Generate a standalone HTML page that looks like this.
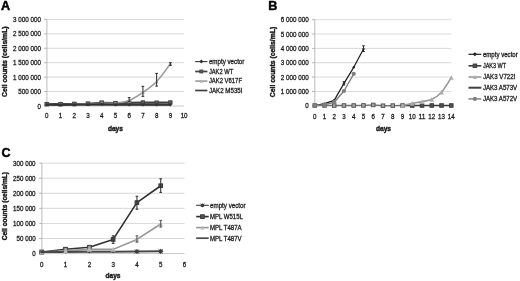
<!DOCTYPE html>
<html><head><meta charset="utf-8"><title>Figure</title>
<style>
html,body{margin:0;padding:0;background:#fff;}
body{width:520px;height:281px;overflow:hidden;}
svg{display:block;font-family:'Liberation Sans', sans-serif;}
text{stroke:#1a1a1a;stroke-width:0.28px;}
</style></head><body>
<svg width="520" height="281" viewBox="0 0 520 281">
<defs><filter id="soft" x="0" y="0" width="520" height="281" filterUnits="userSpaceOnUse"><feGaussianBlur stdDeviation="0.35"/></filter></defs>
<rect width="520" height="281" fill="#ffffff"/>
<g filter="url(#soft)">
<text x="0.9" y="10.3" font-size="12.6" text-anchor="start" font-weight="bold" fill="#000" style="stroke:#000;stroke-width:0.45px">A</text>
<line x1="46.8" y1="106.00" x2="184.1" y2="106.00" stroke="#b9b9b9" stroke-width="0.8"/>
<text x="37.45" y="108.5" font-size="6.9" text-anchor="start" font-weight="normal" fill="#1a1a1a" textLength="3.45" lengthAdjust="spacingAndGlyphs">0</text>
<line x1="44.20" y1="106.00" x2="46.8" y2="106.00" stroke="#9a9a9a" stroke-width="0.8"/>
<line x1="46.8" y1="91.57" x2="184.1" y2="91.57" stroke="#cfcfcf" stroke-width="0.8"/>
<text x="18.35" y="94.07" font-size="6.9" text-anchor="start" font-weight="normal" fill="#1a1a1a" textLength="22.55" lengthAdjust="spacingAndGlyphs">500 000</text>
<line x1="44.20" y1="91.57" x2="46.8" y2="91.57" stroke="#9a9a9a" stroke-width="0.8"/>
<line x1="46.8" y1="77.13" x2="184.1" y2="77.13" stroke="#cfcfcf" stroke-width="0.8"/>
<text x="13.05" y="79.63" font-size="6.9" text-anchor="start" font-weight="normal" fill="#1a1a1a" textLength="27.85" lengthAdjust="spacingAndGlyphs">1 000 000</text>
<line x1="44.20" y1="77.13" x2="46.8" y2="77.13" stroke="#9a9a9a" stroke-width="0.8"/>
<line x1="46.8" y1="62.70" x2="184.1" y2="62.70" stroke="#cfcfcf" stroke-width="0.8"/>
<text x="13.05" y="65.2" font-size="6.9" text-anchor="start" font-weight="normal" fill="#1a1a1a" textLength="27.85" lengthAdjust="spacingAndGlyphs">1 500 000</text>
<line x1="44.20" y1="62.70" x2="46.8" y2="62.70" stroke="#9a9a9a" stroke-width="0.8"/>
<line x1="46.8" y1="48.27" x2="184.1" y2="48.27" stroke="#cfcfcf" stroke-width="0.8"/>
<text x="13.05" y="50.77" font-size="6.9" text-anchor="start" font-weight="normal" fill="#1a1a1a" textLength="27.85" lengthAdjust="spacingAndGlyphs">2 000 000</text>
<line x1="44.20" y1="48.27" x2="46.8" y2="48.27" stroke="#9a9a9a" stroke-width="0.8"/>
<line x1="46.8" y1="33.83" x2="184.1" y2="33.83" stroke="#cfcfcf" stroke-width="0.8"/>
<text x="13.05" y="36.33" font-size="6.9" text-anchor="start" font-weight="normal" fill="#1a1a1a" textLength="27.85" lengthAdjust="spacingAndGlyphs">2 500 000</text>
<line x1="44.20" y1="33.83" x2="46.8" y2="33.83" stroke="#9a9a9a" stroke-width="0.8"/>
<line x1="46.8" y1="19.40" x2="184.1" y2="19.40" stroke="#cfcfcf" stroke-width="0.8"/>
<text x="13.05" y="21.9" font-size="6.9" text-anchor="start" font-weight="normal" fill="#1a1a1a" textLength="27.85" lengthAdjust="spacingAndGlyphs">3 000 000</text>
<line x1="44.20" y1="19.40" x2="46.8" y2="19.40" stroke="#9a9a9a" stroke-width="0.8"/>
<line x1="46.90" y1="19.4" x2="46.90" y2="106.0" stroke="#b4b4b4" stroke-width="0.9"/>
<text x="45.07" y="118.3" font-size="6.9" text-anchor="start" font-weight="normal" fill="#1a1a1a" textLength="3.45" lengthAdjust="spacingAndGlyphs">0</text>
<text x="58.8" y="118.3" font-size="6.9" text-anchor="start" font-weight="normal" fill="#1a1a1a" textLength="3.45" lengthAdjust="spacingAndGlyphs">1</text>
<text x="72.53" y="118.3" font-size="6.9" text-anchor="start" font-weight="normal" fill="#1a1a1a" textLength="3.45" lengthAdjust="spacingAndGlyphs">2</text>
<text x="86.27" y="118.3" font-size="6.9" text-anchor="start" font-weight="normal" fill="#1a1a1a" textLength="3.45" lengthAdjust="spacingAndGlyphs">3</text>
<text x="100.0" y="118.3" font-size="6.9" text-anchor="start" font-weight="normal" fill="#1a1a1a" textLength="3.45" lengthAdjust="spacingAndGlyphs">4</text>
<text x="113.73" y="118.3" font-size="6.9" text-anchor="start" font-weight="normal" fill="#1a1a1a" textLength="3.45" lengthAdjust="spacingAndGlyphs">5</text>
<text x="127.46" y="118.3" font-size="6.9" text-anchor="start" font-weight="normal" fill="#1a1a1a" textLength="3.45" lengthAdjust="spacingAndGlyphs">6</text>
<text x="141.19" y="118.3" font-size="6.9" text-anchor="start" font-weight="normal" fill="#1a1a1a" textLength="3.45" lengthAdjust="spacingAndGlyphs">7</text>
<text x="154.91" y="118.3" font-size="6.9" text-anchor="start" font-weight="normal" fill="#1a1a1a" textLength="3.45" lengthAdjust="spacingAndGlyphs">8</text>
<text x="168.65" y="118.3" font-size="6.9" text-anchor="start" font-weight="normal" fill="#1a1a1a" textLength="3.45" lengthAdjust="spacingAndGlyphs">9</text>
<text x="180.65" y="118.3" font-size="6.9" text-anchor="start" font-weight="normal" fill="#1a1a1a" textLength="6.90" lengthAdjust="spacingAndGlyphs">10</text>
<text x="115.4" y="131" font-size="6.6" text-anchor="middle" font-weight="bold" fill="#1a1a1a" style="stroke-width:0.4px">days</text>
<text transform="translate(7.0 61.7) rotate(-90)" font-size="6.8" text-anchor="middle" font-weight="bold" fill="#1a1a1a" style="stroke-width:0.4px" textLength="70.6" lengthAdjust="spacingAndGlyphs">Cell counts (cells/mL)</text>
<path d="M46.80 104.12L60.53 104.12L74.26 103.98L87.99 103.75L101.72 102.77L115.45 103.11L129.18 102.88L142.91 102.48L156.64 102.68L170.37 102.48" stroke="#404040" stroke-width="2.2" fill="none" stroke-linejoin="round"/>
<rect x="45.10" y="102.42" width="3.40" height="3.40" fill="#5c5c5c" stroke="#404040" stroke-width="0.9"/>
<rect x="58.83" y="102.42" width="3.40" height="3.40" fill="#5c5c5c" stroke="#404040" stroke-width="0.9"/>
<rect x="72.56" y="102.28" width="3.40" height="3.40" fill="#5c5c5c" stroke="#404040" stroke-width="0.9"/>
<rect x="86.29" y="102.05" width="3.40" height="3.40" fill="#5c5c5c" stroke="#404040" stroke-width="0.9"/>
<rect x="100.02" y="101.07" width="3.40" height="3.40" fill="#5c5c5c" stroke="#404040" stroke-width="0.9"/>
<rect x="113.75" y="101.41" width="3.40" height="3.40" fill="#5c5c5c" stroke="#404040" stroke-width="0.9"/>
<rect x="127.48" y="101.18" width="3.40" height="3.40" fill="#5c5c5c" stroke="#404040" stroke-width="0.9"/>
<rect x="141.21" y="100.78" width="3.40" height="3.40" fill="#5c5c5c" stroke="#404040" stroke-width="0.9"/>
<rect x="154.94" y="100.98" width="3.40" height="3.40" fill="#5c5c5c" stroke="#404040" stroke-width="0.9"/>
<rect x="168.67" y="100.78" width="3.40" height="3.40" fill="#5c5c5c" stroke="#404040" stroke-width="0.9"/>
<path d="M46.80 104.56C49.13 104.61 55.86 104.89 60.53 104.85C65.20 104.80 69.59 104.42 74.26 104.27C78.93 104.12 83.32 104.13 87.99 103.98C92.66 103.83 97.05 103.55 101.72 103.40C106.39 103.25 110.78 103.60 115.45 103.11C120.12 102.62 124.51 102.33 129.18 100.52C133.85 98.70 138.24 95.67 142.91 92.43C147.58 89.19 151.97 86.32 156.64 81.46C161.31 76.61 168.04 66.85 170.37 63.85" stroke="#989898" stroke-width="1.6" fill="none" stroke-linejoin="round"/>
<path d="M46.80 102.66L48.70 106.46L44.90 106.46Z" fill="#b4b4b4"/>
<path d="M60.53 102.95L62.43 106.75L58.63 106.75Z" fill="#b4b4b4"/>
<path d="M74.26 102.37L76.16 106.17L72.36 106.17Z" fill="#b4b4b4"/>
<path d="M87.99 102.08L89.89 105.88L86.09 105.88Z" fill="#b4b4b4"/>
<path d="M101.72 101.50L103.62 105.30L99.82 105.30Z" fill="#b4b4b4"/>
<path d="M115.45 101.21L117.35 105.01L113.55 105.01Z" fill="#b4b4b4"/>
<path d="M129.18 98.62L131.08 102.42L127.28 102.42Z" fill="#b4b4b4"/>
<path d="M142.91 90.53L144.81 94.33L141.01 94.33Z" fill="#b4b4b4"/>
<path d="M156.64 79.56L158.54 83.36L154.74 83.36Z" fill="#b4b4b4"/>
<path d="M170.37 61.95L172.27 65.75L168.47 65.75Z" fill="#b4b4b4"/>
<path d="M129.18 101.38V97.63M127.83 101.38H130.53M127.83 97.63H130.53" stroke="#2a2a2a" stroke-width="1.0" fill="none"/>
<path d="M142.91 96.33V86.37M141.56 96.33H144.26M141.56 86.37H144.26" stroke="#2a2a2a" stroke-width="1.0" fill="none"/>
<path d="M156.64 86.08V73.38M155.29 86.08H157.99M155.29 73.38H157.99" stroke="#2a2a2a" stroke-width="1.0" fill="none"/>
<path d="M170.37 65.30V62.70M169.02 65.30H171.72M169.02 62.70H171.72" stroke="#2a2a2a" stroke-width="1.0" fill="none"/>
<path d="M46.80 104.12L60.53 104.12L74.26 103.98L87.99 103.75L101.72 102.77L115.45 103.11" stroke="#484848" stroke-width="0" fill="none" stroke-linejoin="round"/>
<rect x="45.10" y="102.42" width="3.40" height="3.40" fill="#8e8e8e" stroke="#484848" stroke-width="0.9"/>
<rect x="58.83" y="102.42" width="3.40" height="3.40" fill="#8e8e8e" stroke="#484848" stroke-width="0.9"/>
<rect x="72.56" y="102.28" width="3.40" height="3.40" fill="#8e8e8e" stroke="#484848" stroke-width="0.9"/>
<rect x="86.29" y="102.05" width="3.40" height="3.40" fill="#8e8e8e" stroke="#484848" stroke-width="0.9"/>
<rect x="100.02" y="101.07" width="3.40" height="3.40" fill="#8e8e8e" stroke="#484848" stroke-width="0.9"/>
<rect x="113.75" y="101.41" width="3.40" height="3.40" fill="#8e8e8e" stroke="#484848" stroke-width="0.9"/>
<path d="M46.80 104.56L60.53 104.90L74.26 104.70L87.99 104.56L101.72 104.41L115.45 104.70L129.18 104.61L142.91 104.70L156.64 104.70L170.37 104.70" stroke="#404040" stroke-width="2.2" fill="none" stroke-linejoin="round"/>
<path d="M46.80 104.56L60.53 104.90L74.26 104.70L87.99 104.56L101.72 104.41L115.45 104.70L129.18 104.70L142.91 104.85L156.64 104.85L170.37 104.85" stroke="#333333" stroke-width="1.1" fill="none" stroke-linejoin="round"/>
<path d="M46.80 102.86L48.50 104.56L46.80 106.26L45.10 104.56Z" fill="#333333"/>
<path d="M60.53 103.20L62.23 104.90L60.53 106.60L58.83 104.90Z" fill="#333333"/>
<path d="M74.26 103.00L75.96 104.70L74.26 106.40L72.56 104.70Z" fill="#333333"/>
<path d="M87.99 102.86L89.69 104.56L87.99 106.26L86.29 104.56Z" fill="#333333"/>
<path d="M101.72 102.71L103.42 104.41L101.72 106.11L100.02 104.41Z" fill="#333333"/>
<path d="M115.45 103.00L117.15 104.70L115.45 106.40L113.75 104.70Z" fill="#333333"/>
<path d="M129.18 103.00L130.88 104.70L129.18 106.40L127.48 104.70Z" fill="#333333"/>
<path d="M142.91 103.15L144.61 104.85L142.91 106.55L141.21 104.85Z" fill="#333333"/>
<path d="M156.64 103.15L158.34 104.85L156.64 106.55L154.94 104.85Z" fill="#333333"/>
<path d="M170.37 103.15L172.07 104.85L170.37 106.55L168.67 104.85Z" fill="#333333"/>
<line x1="195.2" y1="61.6" x2="207.4" y2="61.6" stroke="#333333" stroke-width="1.1"/>
<path d="M201.30 59.60L203.30 61.60L201.30 63.60L199.30 61.60Z" fill="#333333"/>
<text x="208.9" y="63.9" font-size="6.5" text-anchor="start" font-weight="normal" fill="#1a1a1a" textLength="35.50" lengthAdjust="spacingAndGlyphs">empty vector</text>
<line x1="195.2" y1="71.5" x2="207.4" y2="71.5" stroke="#404040" stroke-width="1.7"/>
<rect x="199.85" y="70.05" width="2.90" height="2.90" fill="#5c5c5c" stroke="#404040" stroke-width="0.9"/>
<text x="208.9" y="73.8" font-size="6.5" text-anchor="start" font-weight="normal" fill="#1a1a1a" textLength="24.30" lengthAdjust="spacingAndGlyphs">JAK2 WT</text>
<line x1="195.2" y1="81.1" x2="207.4" y2="81.1" stroke="#989898" stroke-width="1.6"/>
<path d="M201.30 79.40L203.00 82.80L199.60 82.80Z" fill="#b4b4b4"/>
<text x="208.9" y="83.39999999999999" font-size="6.5" text-anchor="start" font-weight="normal" fill="#1a1a1a" textLength="33.10" lengthAdjust="spacingAndGlyphs">JAK2 V617F</text>
<line x1="195.2" y1="90.5" x2="207.4" y2="90.5" stroke="#404040" stroke-width="1.7"/>
<text x="208.9" y="92.8" font-size="6.5" text-anchor="start" font-weight="normal" fill="#1a1a1a" textLength="33.60" lengthAdjust="spacingAndGlyphs">JAK2 M535I</text>
<text x="268.3" y="10.3" font-size="12.6" text-anchor="start" font-weight="bold" fill="#000" style="stroke:#000;stroke-width:0.45px">B</text>
<line x1="314.7" y1="105.80" x2="451.3" y2="105.80" stroke="#b9b9b9" stroke-width="0.8"/>
<text x="305.25" y="108.3" font-size="6.9" text-anchor="start" font-weight="normal" fill="#1a1a1a" textLength="3.45" lengthAdjust="spacingAndGlyphs">0</text>
<line x1="312.10" y1="105.80" x2="314.7" y2="105.80" stroke="#9a9a9a" stroke-width="0.8"/>
<line x1="314.7" y1="91.45" x2="451.3" y2="91.45" stroke="#cfcfcf" stroke-width="0.8"/>
<text x="280.85" y="93.95" font-size="6.9" text-anchor="start" font-weight="normal" fill="#1a1a1a" textLength="27.85" lengthAdjust="spacingAndGlyphs">1 000 000</text>
<line x1="312.10" y1="91.45" x2="314.7" y2="91.45" stroke="#9a9a9a" stroke-width="0.8"/>
<line x1="314.7" y1="77.10" x2="451.3" y2="77.10" stroke="#cfcfcf" stroke-width="0.8"/>
<text x="280.85" y="79.6" font-size="6.9" text-anchor="start" font-weight="normal" fill="#1a1a1a" textLength="27.85" lengthAdjust="spacingAndGlyphs">2 000 000</text>
<line x1="312.10" y1="77.10" x2="314.7" y2="77.10" stroke="#9a9a9a" stroke-width="0.8"/>
<line x1="314.7" y1="62.75" x2="451.3" y2="62.75" stroke="#cfcfcf" stroke-width="0.8"/>
<text x="280.85" y="65.25" font-size="6.9" text-anchor="start" font-weight="normal" fill="#1a1a1a" textLength="27.85" lengthAdjust="spacingAndGlyphs">3 000 000</text>
<line x1="312.10" y1="62.75" x2="314.7" y2="62.75" stroke="#9a9a9a" stroke-width="0.8"/>
<line x1="314.7" y1="48.40" x2="451.3" y2="48.40" stroke="#cfcfcf" stroke-width="0.8"/>
<text x="280.85" y="50.9" font-size="6.9" text-anchor="start" font-weight="normal" fill="#1a1a1a" textLength="27.85" lengthAdjust="spacingAndGlyphs">4 000 000</text>
<line x1="312.10" y1="48.40" x2="314.7" y2="48.40" stroke="#9a9a9a" stroke-width="0.8"/>
<line x1="314.7" y1="34.05" x2="451.3" y2="34.05" stroke="#cfcfcf" stroke-width="0.8"/>
<text x="280.85" y="36.55" font-size="6.9" text-anchor="start" font-weight="normal" fill="#1a1a1a" textLength="27.85" lengthAdjust="spacingAndGlyphs">5 000 000</text>
<line x1="312.10" y1="34.05" x2="314.7" y2="34.05" stroke="#9a9a9a" stroke-width="0.8"/>
<line x1="314.7" y1="19.70" x2="451.3" y2="19.70" stroke="#cfcfcf" stroke-width="0.8"/>
<text x="280.85" y="22.2" font-size="6.9" text-anchor="start" font-weight="normal" fill="#1a1a1a" textLength="27.85" lengthAdjust="spacingAndGlyphs">6 000 000</text>
<line x1="312.10" y1="19.70" x2="314.7" y2="19.70" stroke="#9a9a9a" stroke-width="0.8"/>
<line x1="314.80" y1="19.7" x2="314.80" y2="105.8" stroke="#b4b4b4" stroke-width="0.9"/>
<text x="312.97" y="118.5" font-size="6.9" text-anchor="start" font-weight="normal" fill="#1a1a1a" textLength="3.45" lengthAdjust="spacingAndGlyphs">0</text>
<text x="322.73" y="118.5" font-size="6.9" text-anchor="start" font-weight="normal" fill="#1a1a1a" textLength="3.45" lengthAdjust="spacingAndGlyphs">1</text>
<text x="332.49" y="118.5" font-size="6.9" text-anchor="start" font-weight="normal" fill="#1a1a1a" textLength="3.45" lengthAdjust="spacingAndGlyphs">2</text>
<text x="342.25" y="118.5" font-size="6.9" text-anchor="start" font-weight="normal" fill="#1a1a1a" textLength="3.45" lengthAdjust="spacingAndGlyphs">3</text>
<text x="352.0" y="118.5" font-size="6.9" text-anchor="start" font-weight="normal" fill="#1a1a1a" textLength="3.45" lengthAdjust="spacingAndGlyphs">4</text>
<text x="361.76" y="118.5" font-size="6.9" text-anchor="start" font-weight="normal" fill="#1a1a1a" textLength="3.45" lengthAdjust="spacingAndGlyphs">5</text>
<text x="371.52" y="118.5" font-size="6.9" text-anchor="start" font-weight="normal" fill="#1a1a1a" textLength="3.45" lengthAdjust="spacingAndGlyphs">6</text>
<text x="381.27" y="118.5" font-size="6.9" text-anchor="start" font-weight="normal" fill="#1a1a1a" textLength="3.45" lengthAdjust="spacingAndGlyphs">7</text>
<text x="391.03" y="118.5" font-size="6.9" text-anchor="start" font-weight="normal" fill="#1a1a1a" textLength="3.45" lengthAdjust="spacingAndGlyphs">8</text>
<text x="400.79" y="118.5" font-size="6.9" text-anchor="start" font-weight="normal" fill="#1a1a1a" textLength="3.45" lengthAdjust="spacingAndGlyphs">9</text>
<text x="408.82" y="118.5" font-size="6.9" text-anchor="start" font-weight="normal" fill="#1a1a1a" textLength="6.90" lengthAdjust="spacingAndGlyphs">10</text>
<text x="418.58" y="118.5" font-size="6.9" text-anchor="start" font-weight="normal" fill="#1a1a1a" textLength="6.90" lengthAdjust="spacingAndGlyphs">11</text>
<text x="428.34" y="118.5" font-size="6.9" text-anchor="start" font-weight="normal" fill="#1a1a1a" textLength="6.90" lengthAdjust="spacingAndGlyphs">12</text>
<text x="438.09" y="118.5" font-size="6.9" text-anchor="start" font-weight="normal" fill="#1a1a1a" textLength="6.90" lengthAdjust="spacingAndGlyphs">13</text>
<text x="447.85" y="118.5" font-size="6.9" text-anchor="start" font-weight="normal" fill="#1a1a1a" textLength="6.90" lengthAdjust="spacingAndGlyphs">14</text>
<text x="383.5" y="131" font-size="6.6" text-anchor="middle" font-weight="bold" fill="#1a1a1a" style="stroke-width:0.4px">days</text>
<text transform="translate(274.8 62.0) rotate(-90)" font-size="6.8" text-anchor="middle" font-weight="bold" fill="#1a1a1a" style="stroke-width:0.4px" textLength="70.3" lengthAdjust="spacingAndGlyphs">Cell counts (cells/mL)</text>
<path d="M314.70 105.51L324.46 103.65L334.21 100.35L343.97 83.41L353.73 67.34L363.49 48.97" stroke="#1e1e1e" stroke-width="1.2" fill="none" stroke-linejoin="round"/>
<path d="M314.70 104.01L316.20 105.51L314.70 107.01L313.20 105.51Z" fill="#1e1e1e"/>
<path d="M324.46 102.15L325.96 103.65L324.46 105.15L322.96 103.65Z" fill="#1e1e1e"/>
<path d="M334.21 98.85L335.71 100.35L334.21 101.85L332.71 100.35Z" fill="#1e1e1e"/>
<path d="M343.97 81.91L345.47 83.41L343.97 84.91L342.47 83.41Z" fill="#1e1e1e"/>
<path d="M353.73 65.84L355.23 67.34L353.73 68.84L352.23 67.34Z" fill="#1e1e1e"/>
<path d="M363.49 47.47L364.99 48.97L363.49 50.47L361.99 48.97Z" fill="#1e1e1e"/>
<path d="M343.97 84.99V81.69M342.62 84.99H345.32M342.62 81.69H345.32" stroke="#2a2a2a" stroke-width="1.0" fill="none"/>
<path d="M363.49 51.56V45.82M362.14 51.56H364.84M362.14 45.82H364.84" stroke="#2a2a2a" stroke-width="1.0" fill="none"/>
<path d="M412.27 105.51L422.03 105.51L431.79 105.51L441.54 105.51L451.30 105.51" stroke="#3c3c3c" stroke-width="1.6" fill="none" stroke-linejoin="round"/>
<rect x="410.47" y="103.71" width="3.60" height="3.60" fill="#505050" stroke="#3c3c3c" stroke-width="0.9"/>
<rect x="420.23" y="103.71" width="3.60" height="3.60" fill="#505050" stroke="#3c3c3c" stroke-width="0.9"/>
<rect x="429.99" y="103.71" width="3.60" height="3.60" fill="#505050" stroke="#3c3c3c" stroke-width="0.9"/>
<rect x="439.74" y="103.71" width="3.60" height="3.60" fill="#505050" stroke="#3c3c3c" stroke-width="0.9"/>
<rect x="449.50" y="103.71" width="3.60" height="3.60" fill="#505050" stroke="#3c3c3c" stroke-width="0.9"/>
<path d="M405.44 105.51L412.27 105.51" stroke="#3c3c3c" stroke-width="1.6" fill="none" stroke-linejoin="round"/>
<path d="M314.70 105.51L324.46 105.44L334.21 105.51L343.97 105.51L353.73 105.51L363.49 105.44L373.24 104.94L383.00 105.73L392.76 105.58L402.51 105.51L405.44 105.51" stroke="#707070" stroke-width="1.3" fill="none" stroke-linejoin="round"/>
<path d="M314.70 105.51L324.46 105.44L334.21 105.51L343.97 105.51L353.73 105.51L363.49 105.44L373.24 104.94L383.00 105.73L392.76 105.58L402.51 105.51" stroke="#505050" stroke-width="0" fill="none" stroke-linejoin="round"/>
<rect x="312.90" y="103.71" width="3.60" height="3.60" fill="#a4a4a4" stroke="#505050" stroke-width="0.9"/>
<rect x="322.66" y="103.64" width="3.60" height="3.60" fill="#a4a4a4" stroke="#505050" stroke-width="0.9"/>
<rect x="332.41" y="103.71" width="3.60" height="3.60" fill="#a4a4a4" stroke="#505050" stroke-width="0.9"/>
<rect x="342.17" y="103.71" width="3.60" height="3.60" fill="#a4a4a4" stroke="#505050" stroke-width="0.9"/>
<rect x="351.93" y="103.71" width="3.60" height="3.60" fill="#a4a4a4" stroke="#505050" stroke-width="0.9"/>
<rect x="361.69" y="103.64" width="3.60" height="3.60" fill="#a4a4a4" stroke="#505050" stroke-width="0.9"/>
<rect x="371.44" y="103.14" width="3.60" height="3.60" fill="#a4a4a4" stroke="#505050" stroke-width="0.9"/>
<rect x="381.20" y="103.93" width="3.60" height="3.60" fill="#a4a4a4" stroke="#505050" stroke-width="0.9"/>
<rect x="390.96" y="103.78" width="3.60" height="3.60" fill="#a4a4a4" stroke="#505050" stroke-width="0.9"/>
<rect x="400.71" y="103.71" width="3.60" height="3.60" fill="#a4a4a4" stroke="#505050" stroke-width="0.9"/>
<path d="M402.51 105.51C404.17 105.15 408.95 104.02 412.27 103.36C415.59 102.70 418.71 102.32 422.03 101.64C425.35 100.96 428.47 100.95 431.79 99.34C435.10 97.73 438.23 95.88 441.54 92.17C444.86 88.46 449.64 80.02 451.30 77.53" stroke="#989898" stroke-width="1.6" fill="none" stroke-linejoin="round"/>
<path d="M402.51 103.21L404.81 107.81L400.21 107.81Z" fill="#acacac"/>
<path d="M412.27 101.06L414.57 105.66L409.97 105.66Z" fill="#acacac"/>
<path d="M422.03 99.34L424.33 103.94L419.73 103.94Z" fill="#acacac"/>
<path d="M431.79 97.04L434.09 101.64L429.49 101.64Z" fill="#acacac"/>
<path d="M441.54 89.87L443.84 94.47L439.24 94.47Z" fill="#acacac"/>
<path d="M451.30 75.23L453.60 79.83L449.00 79.83Z" fill="#acacac"/>
<path d="M314.70 105.51L324.46 104.94L334.21 102.21L343.97 91.02L353.73 73.80" stroke="#7f7f7f" stroke-width="1.4" fill="none" stroke-linejoin="round"/>
<circle cx="314.70" cy="105.51" r="2.1" fill="#7f7f7f"/>
<circle cx="324.46" cy="104.94" r="2.1" fill="#7f7f7f"/>
<circle cx="334.21" cy="102.21" r="2.1" fill="#7f7f7f"/>
<circle cx="343.97" cy="91.02" r="2.1" fill="#7f7f7f"/>
<circle cx="353.73" cy="73.80" r="2.1" fill="#7f7f7f"/>
<line x1="468.5" y1="54.3" x2="481.3" y2="54.3" stroke="#1e1e1e" stroke-width="1.2"/>
<path d="M474.90 52.30L476.90 54.30L474.90 56.30L472.90 54.30Z" fill="#1e1e1e"/>
<text x="482.9" y="56.599999999999994" font-size="6.5" text-anchor="start" font-weight="normal" fill="#1a1a1a" textLength="34.90" lengthAdjust="spacingAndGlyphs">empty vector</text>
<line x1="468.5" y1="65.8" x2="481.3" y2="65.8" stroke="#3c3c3c" stroke-width="1.6"/>
<rect x="473.10" y="64.00" width="3.60" height="3.60" fill="#505050" stroke="#3c3c3c" stroke-width="0.9"/>
<text x="482.9" y="68.1" font-size="6.5" text-anchor="start" font-weight="normal" fill="#1a1a1a" textLength="23.10" lengthAdjust="spacingAndGlyphs">JAK3 WT</text>
<line x1="468.5" y1="77.0" x2="481.3" y2="77.0" stroke="#989898" stroke-width="1.6"/>
<path d="M474.90 75.10L476.80 78.90L473.00 78.90Z" fill="#acacac"/>
<text x="482.9" y="79.3" font-size="6.5" text-anchor="start" font-weight="normal" fill="#1a1a1a" textLength="32.50" lengthAdjust="spacingAndGlyphs">JAK3 V722I</text>
<line x1="468.5" y1="87.7" x2="481.3" y2="87.7" stroke="#404040" stroke-width="2.0"/>
<text x="482.9" y="90.0" font-size="6.5" text-anchor="start" font-weight="normal" fill="#1a1a1a" textLength="34.30" lengthAdjust="spacingAndGlyphs">JAK3 A573V</text>
<line x1="468.5" y1="98.9" x2="481.3" y2="98.9" stroke="#7f7f7f" stroke-width="1.4"/>
<circle cx="474.90" cy="98.90" r="2.1" fill="#7f7f7f"/>
<text x="482.9" y="101.2" font-size="6.5" text-anchor="start" font-weight="normal" fill="#1a1a1a" textLength="34.30" lengthAdjust="spacingAndGlyphs">JAK3 A572V</text>
<text x="1.5" y="156.6" font-size="12.5" text-anchor="start" font-weight="bold" fill="#000" style="stroke:#000;stroke-width:0.45px">C</text>
<line x1="41.8" y1="253.60" x2="184.5" y2="253.60" stroke="#b9b9b9" stroke-width="0.8"/>
<text x="32.15" y="256.1" font-size="6.9" text-anchor="start" font-weight="normal" fill="#1a1a1a" textLength="3.45" lengthAdjust="spacingAndGlyphs">0</text>
<line x1="39.20" y1="253.60" x2="41.8" y2="253.60" stroke="#9a9a9a" stroke-width="0.8"/>
<line x1="41.8" y1="238.52" x2="184.5" y2="238.52" stroke="#cfcfcf" stroke-width="0.8"/>
<text x="16.5" y="241.02" font-size="6.9" text-anchor="start" font-weight="normal" fill="#1a1a1a" textLength="19.10" lengthAdjust="spacingAndGlyphs">50 000</text>
<line x1="39.20" y1="238.52" x2="41.8" y2="238.52" stroke="#9a9a9a" stroke-width="0.8"/>
<line x1="41.8" y1="223.43" x2="184.5" y2="223.43" stroke="#cfcfcf" stroke-width="0.8"/>
<text x="13.05" y="225.93" font-size="6.9" text-anchor="start" font-weight="normal" fill="#1a1a1a" textLength="22.55" lengthAdjust="spacingAndGlyphs">100 000</text>
<line x1="39.20" y1="223.43" x2="41.8" y2="223.43" stroke="#9a9a9a" stroke-width="0.8"/>
<line x1="41.8" y1="208.35" x2="184.5" y2="208.35" stroke="#cfcfcf" stroke-width="0.8"/>
<text x="13.05" y="210.85" font-size="6.9" text-anchor="start" font-weight="normal" fill="#1a1a1a" textLength="22.55" lengthAdjust="spacingAndGlyphs">150 000</text>
<line x1="39.20" y1="208.35" x2="41.8" y2="208.35" stroke="#9a9a9a" stroke-width="0.8"/>
<line x1="41.8" y1="193.27" x2="184.5" y2="193.27" stroke="#cfcfcf" stroke-width="0.8"/>
<text x="13.05" y="195.77" font-size="6.9" text-anchor="start" font-weight="normal" fill="#1a1a1a" textLength="22.55" lengthAdjust="spacingAndGlyphs">200 000</text>
<line x1="39.20" y1="193.27" x2="41.8" y2="193.27" stroke="#9a9a9a" stroke-width="0.8"/>
<line x1="41.8" y1="178.18" x2="184.5" y2="178.18" stroke="#cfcfcf" stroke-width="0.8"/>
<text x="13.05" y="180.68" font-size="6.9" text-anchor="start" font-weight="normal" fill="#1a1a1a" textLength="22.55" lengthAdjust="spacingAndGlyphs">250 000</text>
<line x1="39.20" y1="178.18" x2="41.8" y2="178.18" stroke="#9a9a9a" stroke-width="0.8"/>
<line x1="41.8" y1="163.10" x2="184.5" y2="163.10" stroke="#cfcfcf" stroke-width="0.8"/>
<text x="13.05" y="165.6" font-size="6.9" text-anchor="start" font-weight="normal" fill="#1a1a1a" textLength="22.55" lengthAdjust="spacingAndGlyphs">300 000</text>
<line x1="39.20" y1="163.10" x2="41.8" y2="163.10" stroke="#9a9a9a" stroke-width="0.8"/>
<line x1="41.90" y1="163.1" x2="41.90" y2="253.6" stroke="#b4b4b4" stroke-width="0.9"/>
<text x="40.07" y="267.0" font-size="6.9" text-anchor="start" font-weight="normal" fill="#1a1a1a" textLength="3.45" lengthAdjust="spacingAndGlyphs">0</text>
<text x="63.86" y="267.0" font-size="6.9" text-anchor="start" font-weight="normal" fill="#1a1a1a" textLength="3.45" lengthAdjust="spacingAndGlyphs">1</text>
<text x="87.64" y="267.0" font-size="6.9" text-anchor="start" font-weight="normal" fill="#1a1a1a" textLength="3.45" lengthAdjust="spacingAndGlyphs">2</text>
<text x="111.42" y="267.0" font-size="6.9" text-anchor="start" font-weight="normal" fill="#1a1a1a" textLength="3.45" lengthAdjust="spacingAndGlyphs">3</text>
<text x="135.21" y="267.0" font-size="6.9" text-anchor="start" font-weight="normal" fill="#1a1a1a" textLength="3.45" lengthAdjust="spacingAndGlyphs">4</text>
<text x="158.99" y="267.0" font-size="6.9" text-anchor="start" font-weight="normal" fill="#1a1a1a" textLength="3.45" lengthAdjust="spacingAndGlyphs">5</text>
<text x="182.78" y="267.0" font-size="6.9" text-anchor="start" font-weight="normal" fill="#1a1a1a" textLength="3.45" lengthAdjust="spacingAndGlyphs">6</text>
<text x="113" y="278.3" font-size="6.6" text-anchor="middle" font-weight="bold" fill="#1a1a1a" style="stroke-width:0.4px">days</text>
<text transform="translate(6.6 206.1) rotate(-90)" font-size="6.8" text-anchor="middle" font-weight="bold" fill="#1a1a1a" style="stroke-width:0.4px" textLength="68.2" lengthAdjust="spacingAndGlyphs">Cell counts (cells/mL)</text>
<path d="M41.80 252.09L65.58 249.23L89.37 247.26L113.15 239.42L136.93 202.62L160.72 185.72" stroke="#333333" stroke-width="1.65" fill="none" stroke-linejoin="round"/>
<rect x="39.95" y="250.24" width="3.70" height="3.70" fill="#555555" stroke="#333333" stroke-width="0.9"/>
<rect x="63.73" y="247.38" width="3.70" height="3.70" fill="#555555" stroke="#333333" stroke-width="0.9"/>
<rect x="87.52" y="245.41" width="3.70" height="3.70" fill="#555555" stroke="#333333" stroke-width="0.9"/>
<rect x="111.30" y="237.57" width="3.70" height="3.70" fill="#555555" stroke="#333333" stroke-width="0.9"/>
<rect x="135.08" y="200.77" width="3.70" height="3.70" fill="#555555" stroke="#333333" stroke-width="0.9"/>
<rect x="158.87" y="183.87" width="3.70" height="3.70" fill="#555555" stroke="#333333" stroke-width="0.9"/>
<path d="M65.58 251.19V247.57M64.23 251.19H66.93M64.23 247.57H66.93" stroke="#2a2a2a" stroke-width="1.0" fill="none"/>
<path d="M89.37 249.07V245.45M88.02 249.07H90.72M88.02 245.45H90.72" stroke="#2a2a2a" stroke-width="1.0" fill="none"/>
<path d="M113.15 243.34V235.80M111.80 243.34H114.50M111.80 235.80H114.50" stroke="#2a2a2a" stroke-width="1.0" fill="none"/>
<path d="M136.93 209.25V196.28M135.58 209.25H138.28M135.58 196.28H138.28" stroke="#2a2a2a" stroke-width="1.0" fill="none"/>
<path d="M160.72 192.36V178.79M159.37 192.36H162.07M159.37 178.79H162.07" stroke="#2a2a2a" stroke-width="1.0" fill="none"/>
<path d="M41.80 252.09L65.58 249.23L89.37 247.26" stroke="#444444" stroke-width="0" fill="none" stroke-linejoin="round"/>
<rect x="39.95" y="250.24" width="3.70" height="3.70" fill="#989898" stroke="#444444" stroke-width="0.9"/>
<rect x="63.73" y="247.38" width="3.70" height="3.70" fill="#989898" stroke="#444444" stroke-width="0.9"/>
<rect x="87.52" y="245.41" width="3.70" height="3.70" fill="#989898" stroke="#444444" stroke-width="0.9"/>
<path d="M41.80 252.09L65.58 250.88L89.37 249.38L113.15 249.38L136.93 239.42L160.72 224.04" stroke="#959595" stroke-width="1.6" fill="none" stroke-linejoin="round"/>
<path d="M41.80 249.79L44.10 254.39L39.50 254.39Z" fill="#b8b8b8"/>
<path d="M65.58 248.58L67.88 253.19L63.28 253.19Z" fill="#b8b8b8"/>
<path d="M89.37 247.08L91.67 251.68L87.07 251.68Z" fill="#b8b8b8"/>
<path d="M113.15 247.08L115.45 251.68L110.85 251.68Z" fill="#b8b8b8"/>
<path d="M136.93 237.12L139.23 241.72L134.63 241.72Z" fill="#b8b8b8"/>
<path d="M160.72 221.74L163.02 226.34L158.42 226.34Z" fill="#b8b8b8"/>
<path d="M136.93 242.14V235.80M135.58 242.14H138.28M135.58 235.80H138.28" stroke="#505050" stroke-width="1.0" fill="none"/>
<path d="M160.72 227.05V220.42M159.37 227.05H162.07M159.37 220.42H162.07" stroke="#505050" stroke-width="1.0" fill="none"/>
<path d="M41.80 252.09L65.58 251.94L89.37 251.79L113.15 251.64L136.93 251.49L160.72 251.34" stroke="#4a4a4a" stroke-width="2.0" fill="none" stroke-linejoin="round"/>
<path d="M136.93 251.49L160.72 251.34" stroke="#3a3a3a" stroke-width="0" fill="none" stroke-linejoin="round"/>
<path d="M136.93 248.89L139.53 251.49L136.93 254.09L134.33 251.49Z" fill="#3a3a3a"/>
<path d="M134.85 249.41L139.01 253.57M134.85 253.57L139.01 249.41" stroke="#3a3a3a" stroke-width="0.9"/>
<path d="M160.72 248.74L163.32 251.34L160.72 253.94L158.12 251.34Z" fill="#3a3a3a"/>
<path d="M158.64 249.26L162.80 253.42M158.64 253.42L162.80 249.26" stroke="#3a3a3a" stroke-width="0.9"/>
<path d="M41.80 252.09L65.58 251.94L89.37 251.79L113.15 251.64" stroke="#3a3a3a" stroke-width="0" fill="none" stroke-linejoin="round"/>
<path d="M41.80 250.39L43.50 252.09L41.80 253.79L40.10 252.09Z" fill="#3a3a3a"/>
<path d="M65.58 250.24L67.28 251.94L65.58 253.64L63.88 251.94Z" fill="#3a3a3a"/>
<path d="M89.37 250.09L91.07 251.79L89.37 253.49L87.67 251.79Z" fill="#3a3a3a"/>
<path d="M113.15 249.94L114.85 251.64L113.15 253.34L111.45 251.64Z" fill="#3a3a3a"/>
<path d="M65.58 250.88L89.37 249.38L113.15 249.38" stroke="#bcbcbc" stroke-width="0" fill="none" stroke-linejoin="round"/>
<path d="M65.58 248.48L67.98 253.28L63.18 253.28Z" fill="#bcbcbc"/>
<path d="M89.37 246.98L91.77 251.78L86.97 251.78Z" fill="#bcbcbc"/>
<path d="M113.15 246.98L115.55 251.78L110.75 251.78Z" fill="#bcbcbc"/>
<line x1="196.2" y1="205.3" x2="208.7" y2="205.3" stroke="#3a3a3a" stroke-width="1.1"/>
<path d="M202.45 203.20L204.55 205.30L202.45 207.40L200.35 205.30Z" fill="#3a3a3a"/>
<path d="M200.77 203.62L204.13 206.98M200.77 206.98L204.13 203.62" stroke="#3a3a3a" stroke-width="0.9"/>
<text x="210" y="207.60000000000002" font-size="6.5" text-anchor="start" font-weight="normal" fill="#1a1a1a" textLength="35.60" lengthAdjust="spacingAndGlyphs">empty vector</text>
<line x1="196.2" y1="216.6" x2="208.7" y2="216.6" stroke="#333333" stroke-width="1.65"/>
<rect x="200.60" y="214.75" width="3.70" height="3.70" fill="#555555" stroke="#333333" stroke-width="0.9"/>
<text x="210" y="218.9" font-size="6.5" text-anchor="start" font-weight="normal" fill="#1a1a1a" textLength="32.90" lengthAdjust="spacingAndGlyphs">MPL W515L</text>
<line x1="196.2" y1="227.6" x2="208.7" y2="227.6" stroke="#959595" stroke-width="1.6"/>
<path d="M202.45 225.70L204.35 229.50L200.55 229.50Z" fill="#b8b8b8"/>
<text x="210" y="229.9" font-size="6.5" text-anchor="start" font-weight="normal" fill="#1a1a1a" textLength="31.60" lengthAdjust="spacingAndGlyphs">MPL T487A</text>
<line x1="196.2" y1="238.2" x2="208.7" y2="238.2" stroke="#4a4a4a" stroke-width="1.7"/>
<text x="210" y="240.5" font-size="6.5" text-anchor="start" font-weight="normal" fill="#1a1a1a" textLength="31.60" lengthAdjust="spacingAndGlyphs">MPL T487V</text>
</g>
</svg>
</body></html>
